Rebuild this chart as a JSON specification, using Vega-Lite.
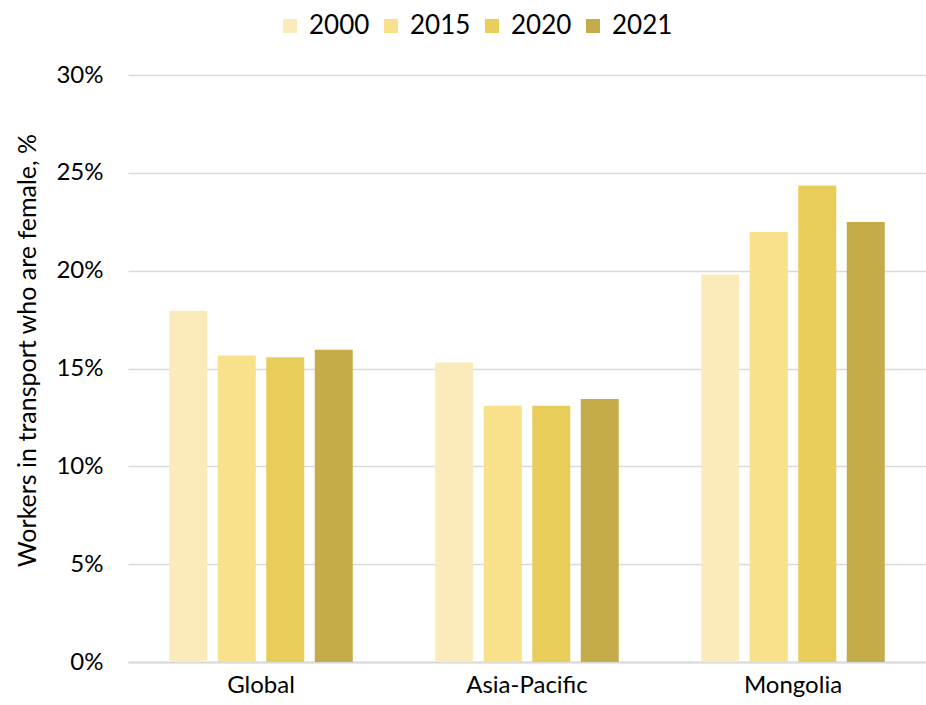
{
  "$schema": "https://vega.github.io/schema/vega-lite/v6.json",
  "width": 798,
  "height": 587,
  "autosize": {"type": "none"},
  "padding": {"left": 128, "top": 75, "right": 0, "bottom": 43},
  "background": "white",
  "config": {
    "font": "Lato",
    "view": {"stroke": null}
  },
  "data": {
    "values": [
      {"region": "Global", "year": "2000", "value": 17.95},
      {"region": "Global", "year": "2015", "value": 15.67},
      {"region": "Global", "year": "2020", "value": 15.57},
      {"region": "Global", "year": "2021", "value": 15.96},
      {"region": "Asia-Pacific", "year": "2000", "value": 15.31},
      {"region": "Asia-Pacific", "year": "2015", "value": 13.09},
      {"region": "Asia-Pacific", "year": "2020", "value": 13.09},
      {"region": "Asia-Pacific", "year": "2021", "value": 13.44},
      {"region": "Mongolia", "year": "2000", "value": 19.8},
      {"region": "Mongolia", "year": "2015", "value": 21.98},
      {"region": "Mongolia", "year": "2020", "value": 24.35},
      {"region": "Mongolia", "year": "2021", "value": 22.49}
    ]
  },
  "mark": {"type": "bar"},
  "encoding": {
    "x": {
      "field": "region",
      "type": "nominal",
      "sort": ["Global", "Asia-Pacific", "Mongolia"],
      "scale": {"paddingInner": 0.31, "paddingOuter": 0.155},
      "axis": {
        "title": null,
        "labelAngle": 0,
        "labelFontSize": 24,
        "labelColor": "#000000",
        "labelPadding": 11,
        "labelBaseline": "top",
        "ticks": false,
        "domainColor": "#d9d9d9",
        "domainWidth": 2,
        "grid": false
      }
    },
    "xOffset": {
      "field": "year",
      "type": "nominal",
      "scale": {"paddingInner": 0.216, "paddingOuter": 0}
    },
    "y": {
      "field": "value",
      "type": "quantitative",
      "scale": {"domain": [0, 30], "nice": false},
      "axis": {
        "values": [0, 5, 10, 15, 20, 25, 30],
        "labelExpr": "datum.value + '%'",
        "labelFontSize": 24,
        "labelColor": "#000000",
        "labelPadding": 25,
        "ticks": false,
        "domain": false,
        "gridColor": "#d9d9d9",
        "gridWidth": 1.5,
        "title": "Workers in transport who are female, %",
        "titleFontSize": 25,
        "titleFontWeight": "normal",
        "titleColor": "#000000",
        "titleAngle": -90,
        "titleX": -101,
        "titleY": 275,
        "titleAlign": "center",
        "titleBaseline": "middle"
      }
    },
    "color": {
      "field": "year",
      "type": "nominal",
      "scale": {
        "domain": ["2000", "2015", "2020", "2021"],
        "range": ["#FBEABA", "#F9E08A", "#E9CD5B", "#C5AC4A"]
      },
      "legend": {
        "title": null,
        "orient": "none",
        "direction": "horizontal",
        "legendX": 149,
        "legendY": -62,
        "symbolType": "square",
        "symbolSize": 196,
        "symbolStrokeWidth": 0,
        "labelFontSize": 26,
        "labelColor": "#000000",
        "labelOffset": 6,
        "columnPadding": 8
      }
    }
  }
}
